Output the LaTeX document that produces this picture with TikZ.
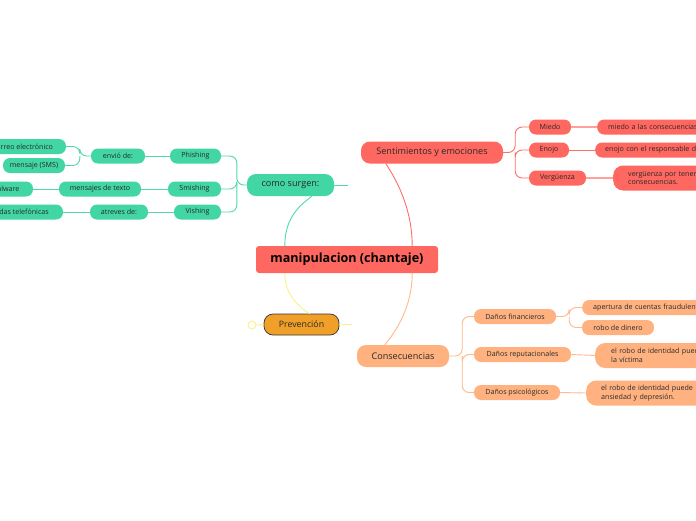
\documentclass[tikz,border=0pt]{standalone}
\usepackage{fontspec}
\setmainfont{Open Sans}
\usetikzlibrary{calc}
\definecolor{gfill}{RGB}{66,214,164}
\definecolor{gline}{RGB}{80,218,168}
\definecolor{rfill}{RGB}{255,104,96}
\definecolor{rline}{RGB}{255,110,100}
\definecolor{rlight}{RGB}{255,160,155}
\definecolor{ofill}{RGB}{255,178,128}
\definecolor{oline}{RGB}{255,185,140}
\definecolor{pfill}{RGB}{240,160,40}
\definecolor{yline}{RGB}{250,242,140}
\definecolor{txt}{RGB}{40,40,40}
\tikzset{
  pill/.style={rounded corners=7pt, inner sep=0pt, minimum height=15pt, text=txt,
    font=\fontsize{7.1}{8}\selectfont},
  gpill/.style={pill, fill=gfill},
  rpill/.style={pill, fill=rfill},
  opill/.style={pill, fill=ofill},
  mainpill/.style={rounded corners=9pt, inner sep=0pt, minimum height=22pt, text=txt,
    font=\fontsize{9.1}{10}\selectfont},
  leaf/.style={rounded corners=10pt, anchor=west, inner ysep=0pt, minimum height=25pt,
    text=txt, align=left, font=\fontsize{7.1}{8.8}\selectfont},
  gl/.style={draw=gline, line width=0.9pt, rounded corners=7pt},
  rl/.style={draw=rline, line width=0.9pt, rounded corners=7pt},
  rll/.style={draw=rlight, line width=1.3pt},
  ol/.style={draw=oline, line width=0.9pt, rounded corners=7pt},
  yl/.style={draw=yline, line width=0.9pt},
}
\begin{document}
\begin{tikzpicture}[x=1pt,y=-1pt]
\clip (0,0) rectangle (696,520);
\fill[white] (0,0) rectangle (696,520);

% central
\node[fill=rfill, rounded corners=3pt, minimum width=182pt, minimum height=27pt, inner sep=0pt,
  text=black, font=\fontsize{12.6}{14}\selectfont\bfseries] (c) at (347,259.5) {manipulacion (chantaje)};

% main branches
\node[mainpill, fill=gfill, minimum width=87pt] (cs) at (290.5,185) {como surgen:};
\node[mainpill, fill=rfill, minimum width=142pt] (se) at (432,152.5) {Sentimientos y emociones};
\node[mainpill, fill=ofill, minimum width=92pt] (co) at (403,356) {Consecuencias};
\node[mainpill, fill=pfill, draw=black!80, line width=0.7pt, minimum width=75pt, minimum height=21pt,
  font=\fontsize{8.8}{10}\selectfont] (pr) at (301.5,324.5) {Prevención};

% left green
\node[gpill, minimum width=51pt] (ph) at (195.5,156) {Phishing};
\node[gpill, minimum width=53pt] (sm) at (194.5,189) {Smishing};
\node[gpill, minimum width=47pt] (vi) at (197.5,212) {Vishing};
\node[gpill, minimum width=54pt] (en) at (118,156) {envió de:};
\node[gpill, minimum width=82pt] (mt) at (100,189) {mensajes de texto};
\node[gpill, minimum width=58pt] (at) at (119,212) {atreves de:};
\node[gpill, minimum width=86pt] (ce) at (23,146.5) {correo electrónico};
\node[gpill, minimum width=62pt] (ms) at (34,165.5) {mensaje (SMS)};
\node[gpill, minimum width=56pt] (mw) at (5,189) {malware};
\node[gpill, minimum width=96pt] (ll) at (15,212) {llamadas telefónicas};

% right red
\node[rpill, minimum width=42pt] (mi) at (550,127) {Miedo};
\node[rpill, minimum width=40pt] (ej) at (549,150) {Enojo};
\node[rpill, minimum width=57pt] (ve) at (557.5,178) {Vergüenza};
\node[rpill, anchor=west, minimum width=130pt, inner xsep=11pt, text width=108pt, align=left] (mil) at (597,127) {miedo a las consecuencias};
\node[rpill, anchor=west, minimum width=130pt, inner xsep=10pt, text width=110pt, align=left] (ejl) at (595,150) {enojo con el responsable de};
\node[leaf, fill=rfill, inner xsep=15pt, text width=120pt] (vel) at (613,178) {vergüenza por tener\\consecuencias.};

% right orange
\node[opill, minimum width=82pt] (df) at (515,316.5) {Daños financieros};
\node[opill, minimum width=97pt] (dr) at (522.5,354.5) {Daños reputacionales};
\node[opill, minimum width=86pt] (dp) at (517,392.5) {Daños psicológicos};
\node[opill, anchor=west, minimum width=140pt, inner xsep=11pt, text width=118pt, align=left] (ap) at (582,307.5) {apertura de cuentas fraudulentas};
\node[opill, minimum width=72pt] (rd) at (618,327.5) {robo de dinero};
\node[leaf, fill=ofill, inner xsep=16pt, text width=120pt] (drl) at (595,355.5) {el robo de identidad puede\\la víctima};
\node[leaf, fill=ofill, inner xsep=15pt, text width=120pt] (dpl) at (586,393) {el robo de identidad puede\\ansiedad y depresión.};

% central connectors
\draw[gl] ($(c.north west)+(29,0)$) .. controls +(0,-30) and +(-10,8) .. ($(cs.south west)+(65,0)$);
\draw[rl] ($(c.north east)+(-26,0)$) .. controls +(0,-40) and +(8,12) .. ($(se.south west)+(25,0)$);
\draw[ol] ($(c.south east)+(-26,0)$) .. controls +(0,35) and +(10,-12) .. ($(co.north west)+(28,0)$);
\draw[yl] ($(c.south west)+(29,0)$) .. controls +(0,22) and +(-10,-6) .. ($(pr.north west)+(46,0)$);

% stubs
\coordinate (csr) at ($(cs.east)+(14,0)$);
\draw[gl] (cs.east) -- (csr);
\coordinate (prr) at ($(pr.east)+(13,0)$);
\draw[yl] (pr.east) -- (prr);
\node[draw=yline, line width=0.9pt, circle, minimum size=8pt, inner sep=0pt] (pc) at (252,325) {};
\draw[yl] (pr.west) -- (pc.east);

% left trunk
\coordinate (tl) at ($(cs.west)+(-10,0)$);
\draw[gl] (cs.west) -- (tl) |- (ph.east);
\draw[gl] (tl) |- (sm.east);
\draw[gl] (tl) |- (vi.east);
\draw[gl] (en.east) -- (ph.west);
\draw[gl] (mt.east) -- (sm.west);
\draw[gl] (at.east) -- (vi.west);
\draw[gl] (mw.east) -- (mt.west);
\draw[gl] (ll.east) -- (at.west);
\coordinate (te) at ($(en.west)+(-11,0)$);
\draw[gl] (en.west) -- (te) |- (ce.east);
\draw[gl] (te) |- (ms.east);

% sentimientos trunk
\coordinate (ts) at ($(se.east)+(12,0)$);
\draw[rl] (se.east) -- (ts) |- (mi.west);
\draw[rl] (ts) |- (ej.west);
\draw[rl] (ts) |- (ve.west);
\draw[rll] (mi.east) -- (mil.west);
\draw[rl] (ej.east) -- (ejl.west);
\draw[rll] (ve.east) -- (vel.west);

% consecuencias trunk
\coordinate (tc) at ($(co.east)+(13,0)$);
\draw[ol] (co.east) -- (tc) |- (df.west);
\draw[ol] (tc) |- (dr.west);
\draw[ol] (tc) |- (dp.west);
\coordinate (tf) at ($(df.east)+(13,0)$);
\draw[ol] (df.east) -- (tf) |- (ap.west);
\draw[ol] (tf) |- (rd.west);
\draw[ol] (dr.east) -- (drl.west);
\draw[ol] (dp.east) -- (dpl.west);
\end{tikzpicture}
\end{document}
